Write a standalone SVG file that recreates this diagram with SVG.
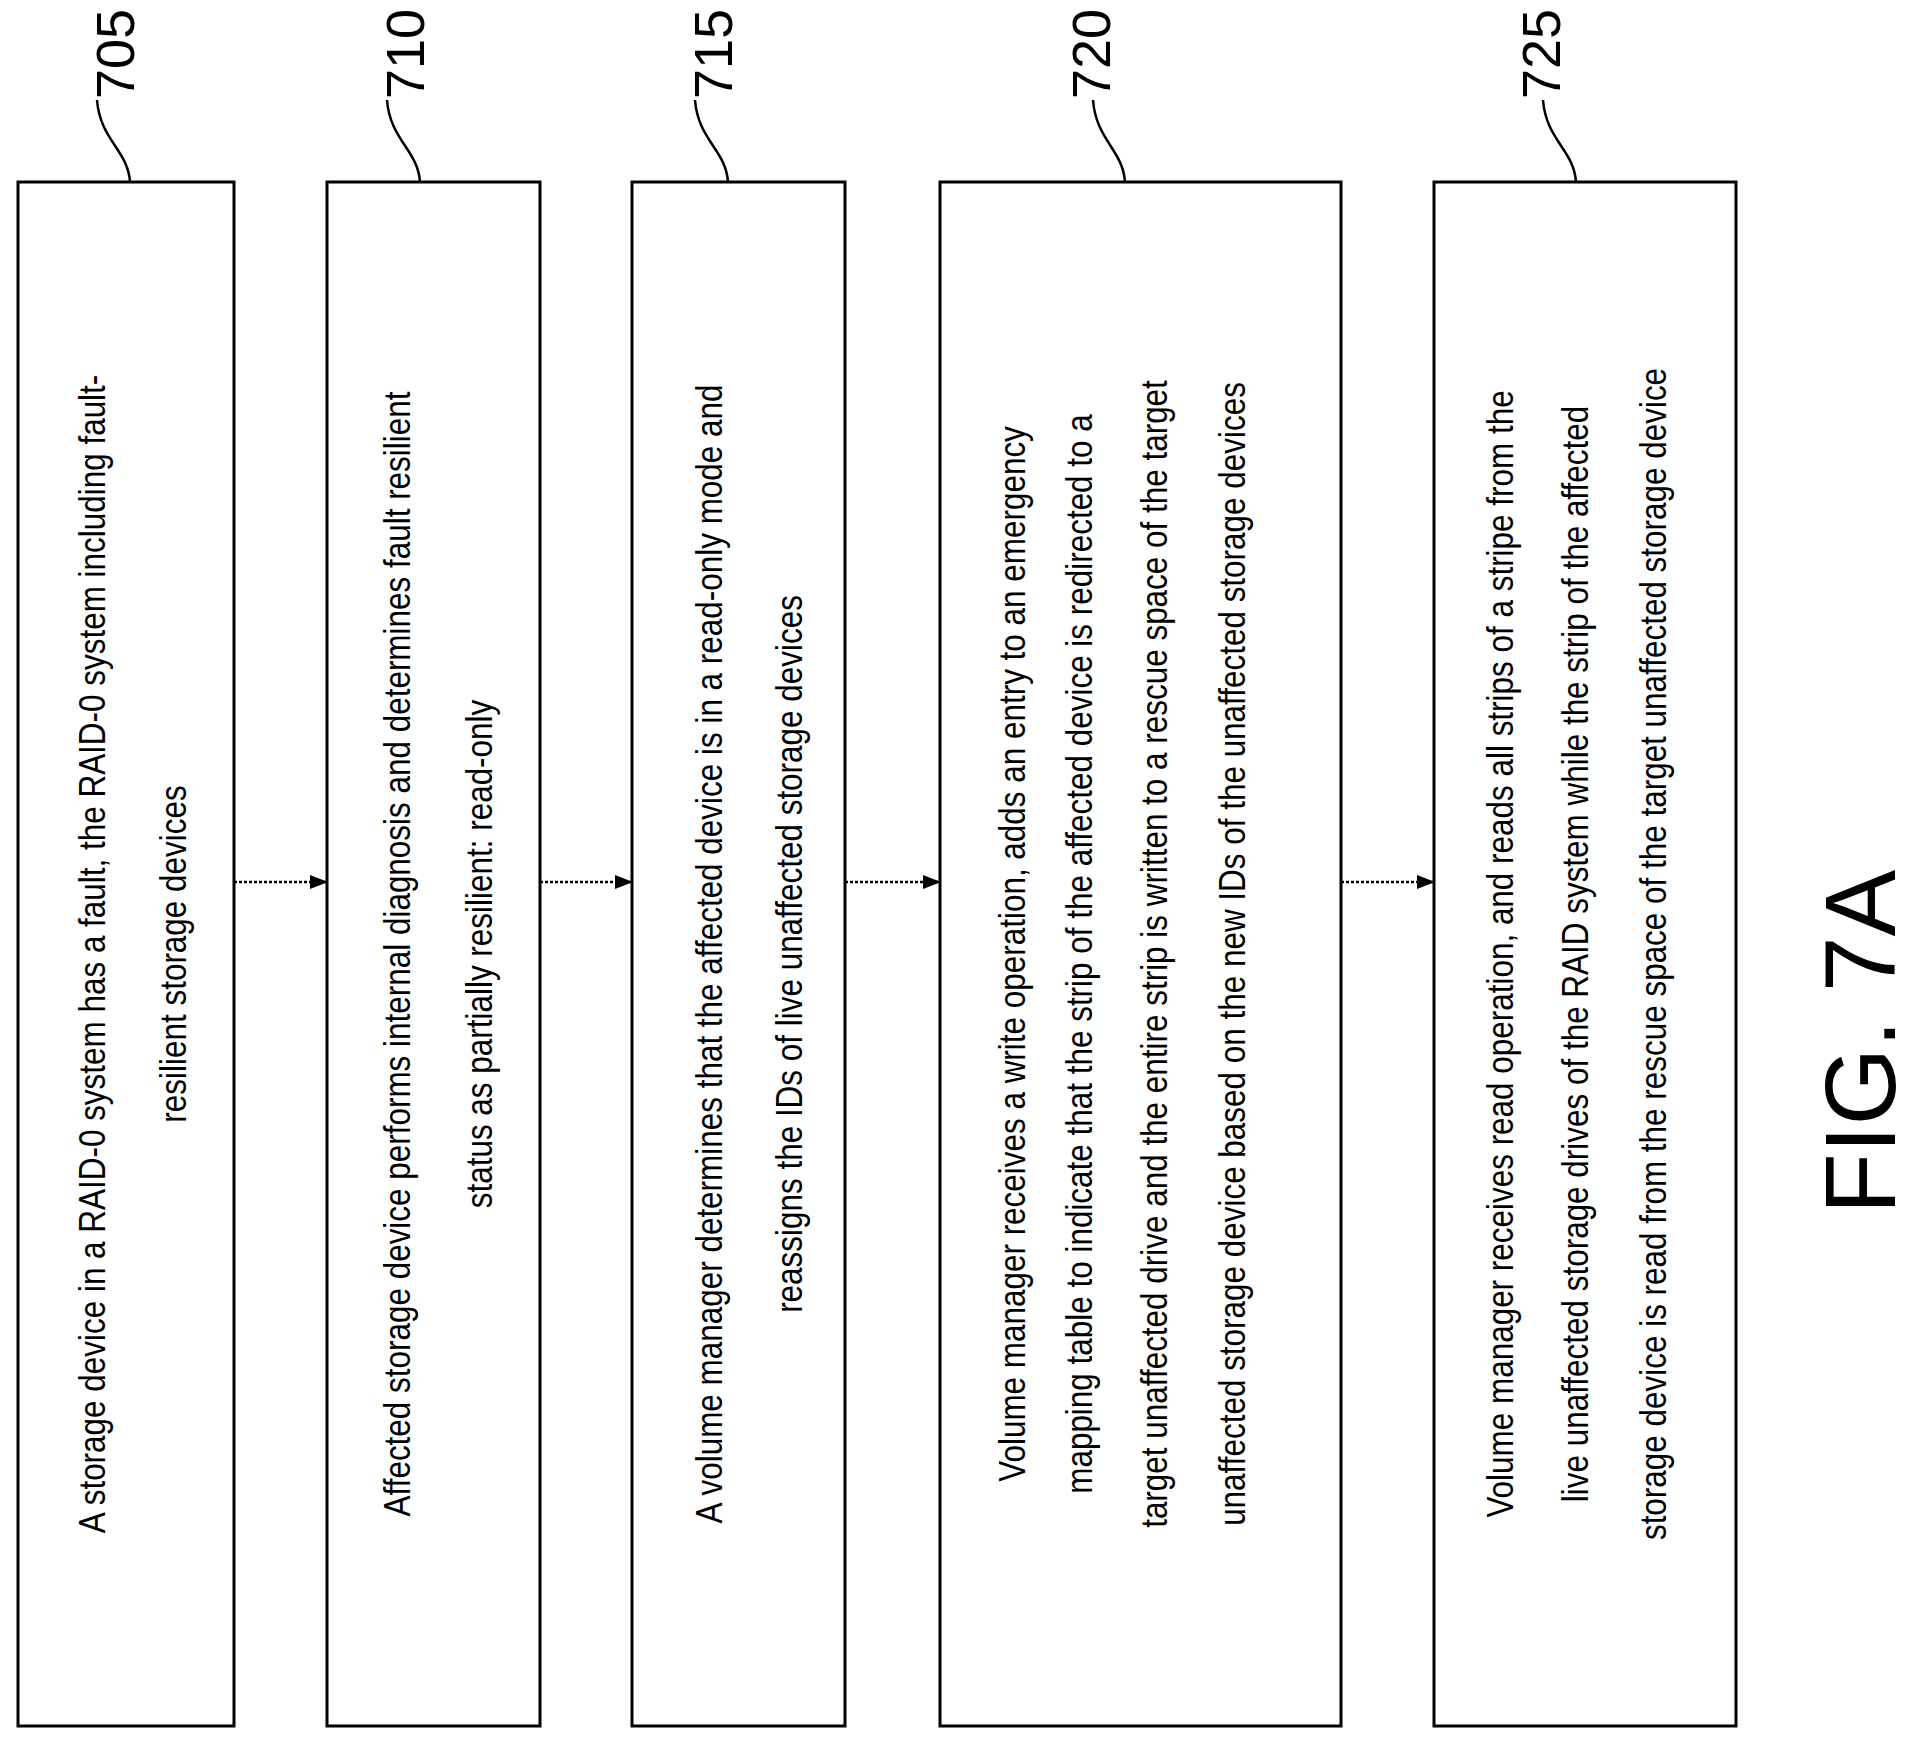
<svg xmlns="http://www.w3.org/2000/svg" width="1923" height="1741" viewBox="0 0 1923 1741">
<style>
.box{fill:#fff;stroke:#000;stroke-width:3}
.t{font-family:"Liberation Sans",Arial,sans-serif;font-size:37px;fill:#000;text-anchor:middle}
.lbl{font-family:"Liberation Sans",Arial,sans-serif;font-size:54px;fill:#000;text-anchor:middle}
.ld{fill:none;stroke:#000;stroke-width:2.5}
.ar{stroke:#000;stroke-width:2.5;stroke-dasharray:3 2;fill:none;marker-end:url(#ah)}
</style>
<defs>
<marker id="ah" markerWidth="18" markerHeight="14" refX="17" refY="7" orient="auto" markerUnits="userSpaceOnUse" viewBox="0 0 18 14">
<path d="M0,0 L18,7 L0,14 Z" fill="#000"/>
</marker>
</defs>
<rect width="1923" height="1741" fill="#fff"/>
<g id="connectors">
<line class="ar" x1="234" y1="882" x2="327" y2="882"/>
<line class="ar" x1="540" y1="882" x2="632" y2="882"/>
<line class="ar" x1="845" y1="882" x2="940" y2="882"/>
<line class="ar" x1="1341" y1="882" x2="1434" y2="882"/>
<path class="ld" d="M97,100 C100,140 128,150 130,182"/>
<path class="ld" d="M387,100 C390,140 418,150 420,182"/>
<path class="ld" d="M695,100 C698,140 726,150 728,182"/>
<path class="ld" d="M1093,100 C1096,140 1123,150 1125,182"/>
<path class="ld" d="M1543,100 C1546,140 1574,150 1576,182"/>
</g>
<g id="n705">
<rect class="box" x="18" y="182" width="216" height="1544"/>
<text class="lbl" transform="translate(134,54) rotate(-90)">705</text>
<g transform="translate(0,954)">
<text class="t" transform="translate(105,0) rotate(-90) scale(0.85,1)">A storage device in a RAID-0 system has a fault, the RAID-0 system including fault-</text>
<text class="t" transform="translate(186,0) rotate(-90) scale(0.85,1)">resilient storage devices</text>
</g>
</g>
<g id="n710">
<rect class="box" x="327" y="182" width="213" height="1544"/>
<text class="lbl" transform="translate(424,54) rotate(-90)">710</text>
<g transform="translate(0,954)">
<text class="t" transform="translate(410,0) rotate(-90) scale(0.85,1)">Affected storage device performs internal diagnosis and determines fault resilient</text>
<text class="t" transform="translate(492,0) rotate(-90) scale(0.85,1)">status as partially resilient: read-only</text>
</g>
</g>
<g id="n715">
<rect class="box" x="632" y="182" width="213" height="1544"/>
<text class="lbl" transform="translate(732,54) rotate(-90)">715</text>
<g transform="translate(0,954)">
<text class="t" transform="translate(722,0) rotate(-90) scale(0.85,1)">A volume manager determines that the affected device is in a read-only mode and</text>
<text class="t" transform="translate(802,0) rotate(-90) scale(0.85,1)">reassigns the IDs of live unaffected storage devices</text>
</g>
</g>
<g id="n720">
<rect class="box" x="940" y="182" width="401" height="1544"/>
<text class="lbl" transform="translate(1110,54) rotate(-90)">720</text>
<g transform="translate(0,954)">
<text class="t" transform="translate(1025,0) rotate(-90) scale(0.85,1)">Volume manager receives a write operation, adds an entry to an emergency</text>
<text class="t" transform="translate(1092,0) rotate(-90) scale(0.85,1)">mapping table to indicate that the strip of the affected device is redirected to a</text>
<text class="t" transform="translate(1167,0) rotate(-90) scale(0.85,1)">target unaffected drive and the entire strip is written to a rescue space of the target</text>
<text class="t" transform="translate(1245,0) rotate(-90) scale(0.85,1)">unaffected storage device based on the new IDs of the unaffected storage devices</text>
</g>
</g>
<g id="n725">
<rect class="box" x="1434" y="182" width="302" height="1544"/>
<text class="lbl" transform="translate(1560,54) rotate(-90)">725</text>
<g transform="translate(0,954)">
<text class="t" transform="translate(1513,0) rotate(-90) scale(0.85,1)">Volume manager receives read operation, and reads all strips of a stripe from the</text>
<text class="t" transform="translate(1588,0) rotate(-90) scale(0.85,1)">live unaffected storage drives of the RAID system while the strip of the affected</text>
<text class="t" transform="translate(1666,0) rotate(-90) scale(0.85,1)">storage device is read from the rescue space of the target unaffected storage device</text>
</g>
</g>
<text font-family="Liberation Sans,Arial,sans-serif" font-size="100" text-anchor="middle" transform="translate(1895,1042) rotate(-90)">FIG. 7A</text>
</svg>
